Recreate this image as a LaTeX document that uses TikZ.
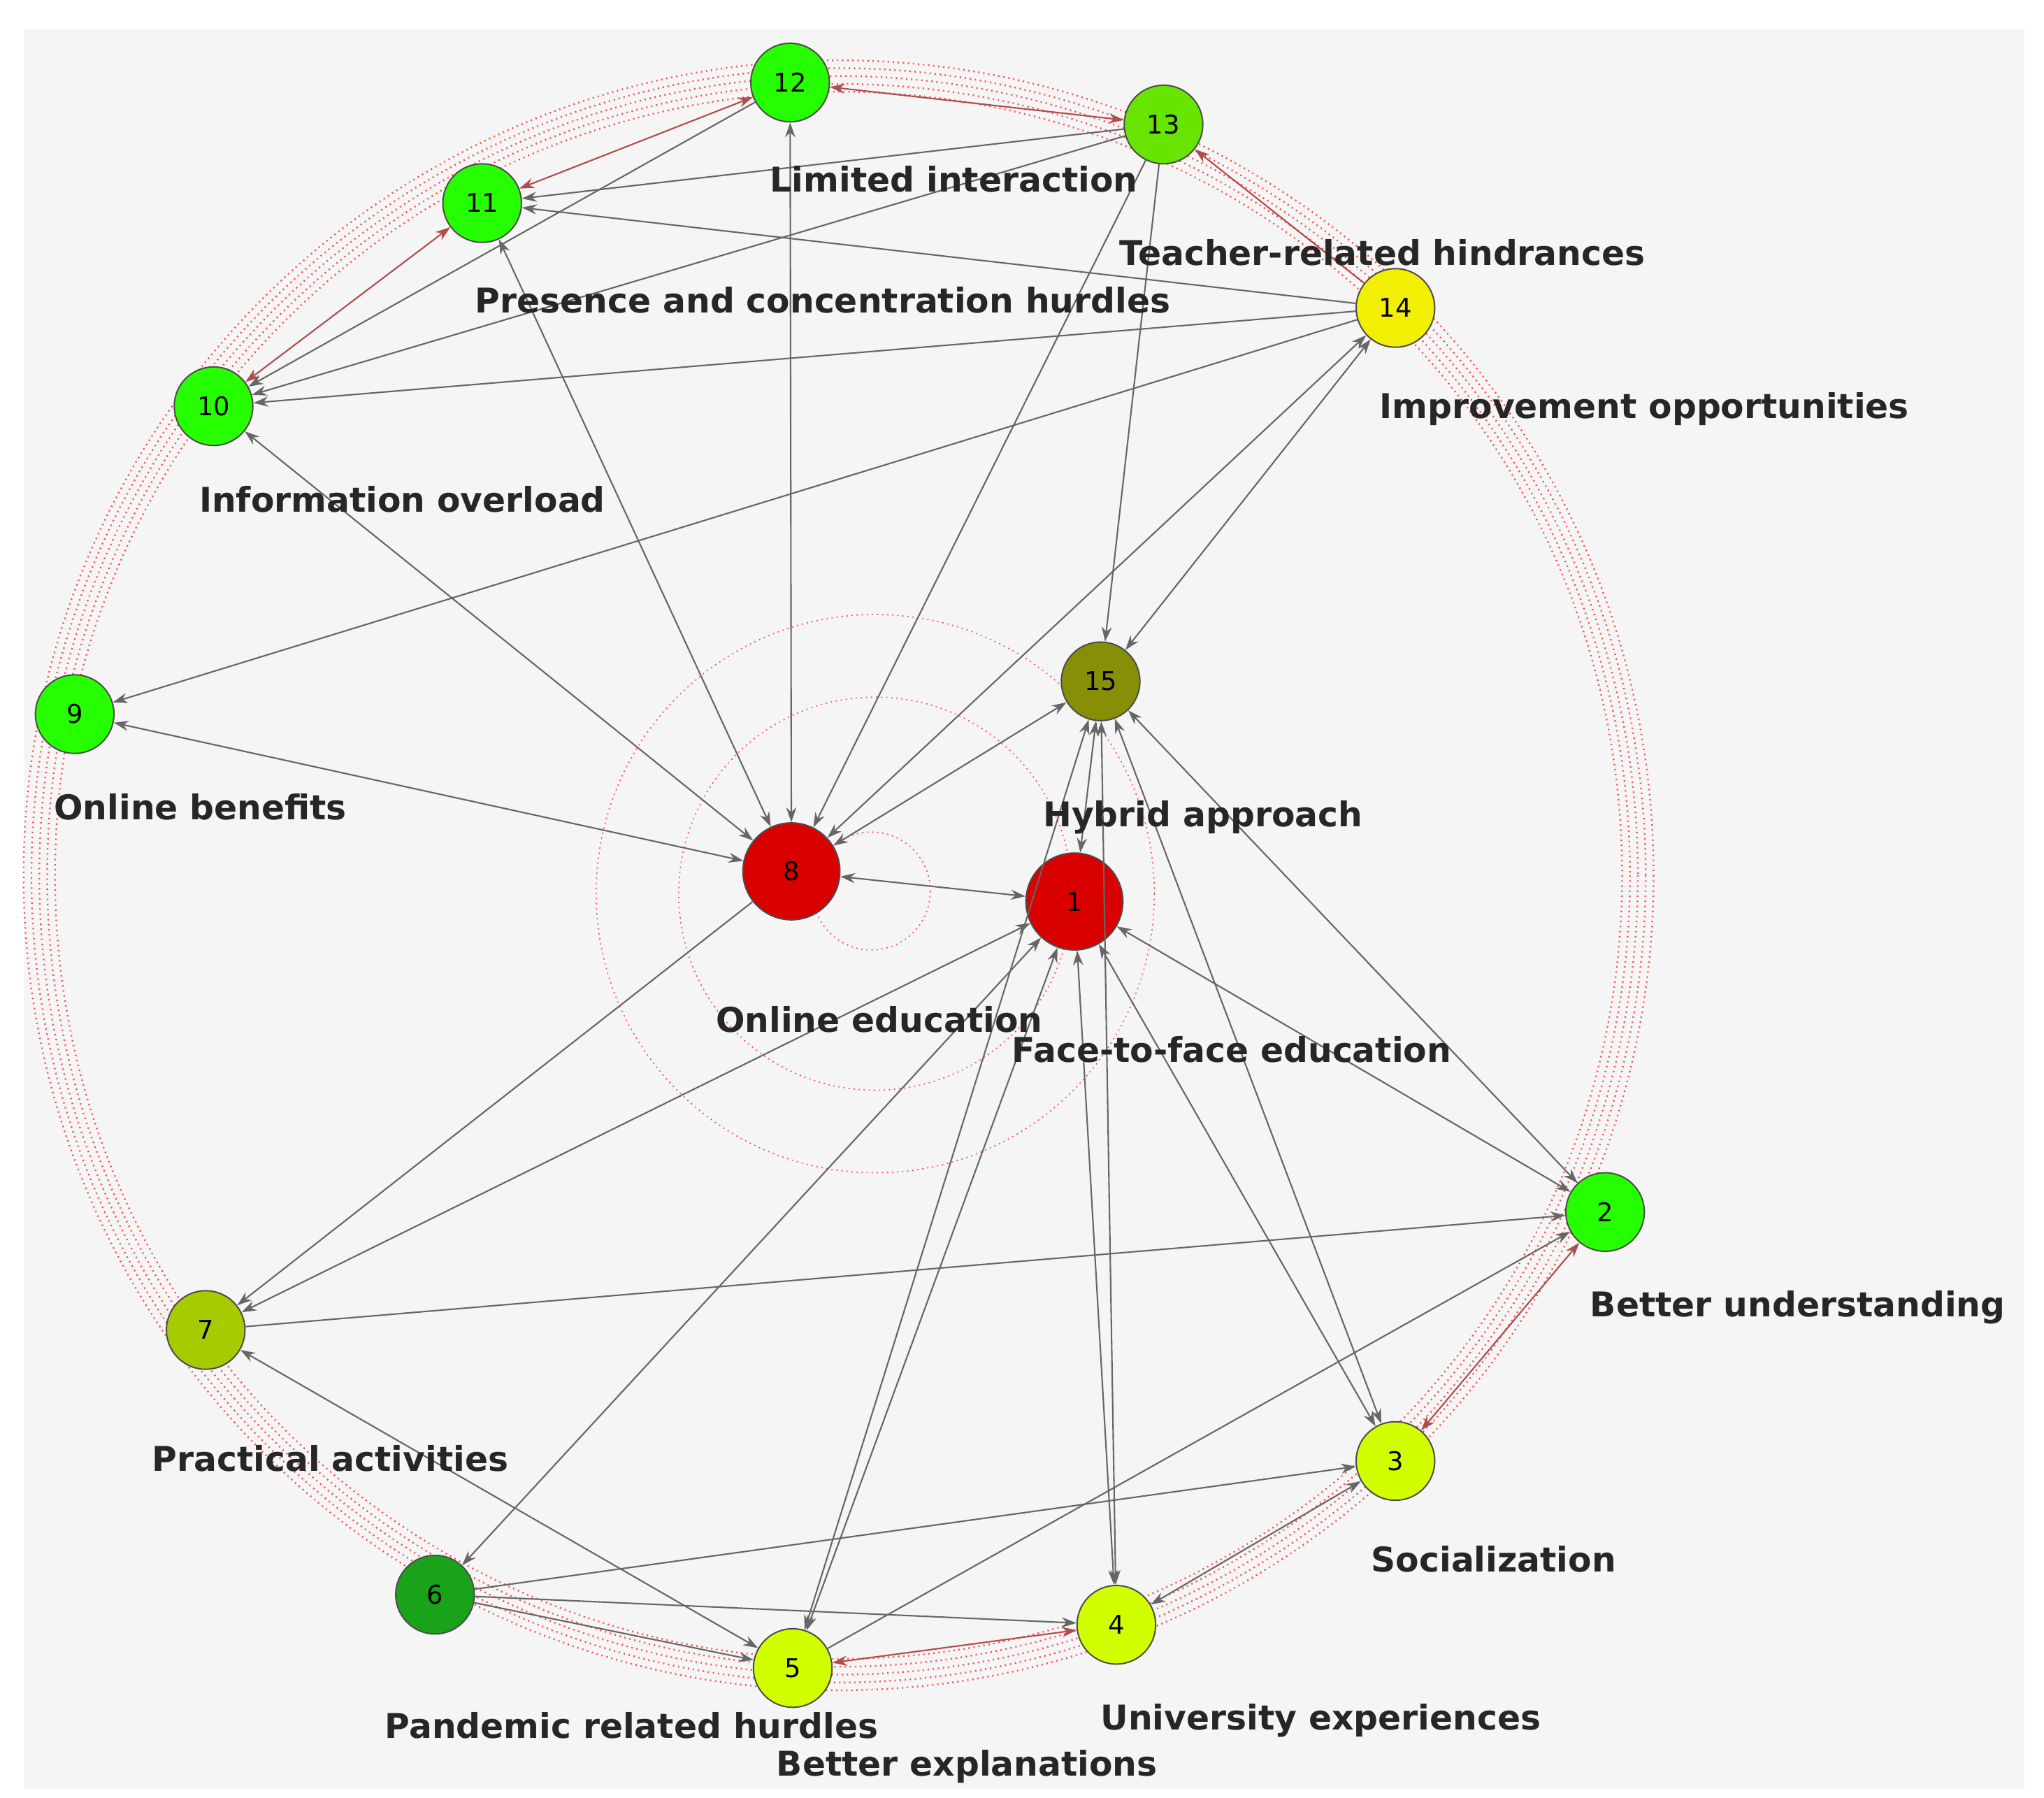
\documentclass[tikz,border=0pt]{standalone}
\usepackage{fontspec}
\setmainfont{DejaVu Sans}
\usetikzlibrary{arrows.meta}
\begin{document}
\begin{tikzpicture}[x=0.05cm,y=-0.05cm,
  nd/.style={circle,draw=black!70,line width=1.5pt,minimum size=3cm,inner sep=0pt,font=\fontsize{28}{30}\selectfont},
  big/.style={nd,minimum size=3.7cm},
  lb/.style={font=\fontsize{37}{40}\selectfont\bfseries,text=black!85},
  ring/.style={draw=red!70,line width=1.8pt,dash pattern=on 1.5pt off 4pt},
  ed/.style={draw=black!60,line width=1.6pt,-{Stealth[length=16pt,width=11pt]}},
  bd/.style={ed,{Stealth[length=16pt,width=11pt]}-{Stealth[length=16pt,width=11pt]}},
  rd/.style={bd,draw=red!55!black!70}]
\useasboundingbox (0,0) rectangle (1560,1372);
\fill[white] (0,0) rectangle (1560,1372);
\fill[black!4] (18,22) rectangle (1545,1365);
% rings
\foreach \r in {598,604,610,616,622}
  \draw[ring] (640,668) circle (\r);
\draw[ring,line width=1.2pt] (668,682) circle (213);
\draw[ring,line width=1.2pt] (668,682) circle (150);
\draw[ring,line width=1.2pt] (665,680) circle (45);
% nodes
\node[nd,fill=green!80!lime] (n12) at (603,63) {12};
\node[nd,fill=lime!60!green!90!black] (n13) at (888,95) {13};
\node[nd,fill=green!80!lime] (n11) at (368,155) {11};
\node[nd,fill=yellow!95!green] (n14) at (1065,235) {14};
\node[nd,fill=green!80!lime] (n10) at (163,310) {10};
\node[nd,fill=green!80!lime] (n9) at (57,545) {9};
\node[nd,fill=olive!85!green] (n15) at (840,520) {15};
\node[big,fill=red!85!black] (n8) at (604,665) {8};
\node[big,fill=red!85!black] (n1) at (820,688) {1};
\node[nd,fill=green!80!lime] (n2) at (1225,925) {2};
\node[nd,fill=lime!60!olive] (n7) at (157,1015) {7};
\node[nd,fill=lime!70!yellow] (n3) at (1065,1115) {3};
\node[nd,fill=green!60!black!90] (n6) at (332,1217) {6};
\node[nd,fill=lime!70!yellow] (n4) at (852,1240) {4};
\node[nd,fill=lime!70!yellow] (n5) at (605,1273) {5};
% edges
\draw[rd] (n12) -- (n13);
\draw[rd] (n11) -- (n12);
\draw[ed] (n13) -- (n11);
\draw[ed] (n13) -- (n10);
\draw[ed] (n14) -- (n11);
\draw[ed] (n14) -- (n10);
\draw[rd,-{Stealth[length=16pt,width=11pt]}] (n14) -- (n13);
\draw[rd] (n11) -- (n10);
\draw[ed] (n12) -- (n10);
\draw[bd] (n12) -- (n8);
\draw[bd] (n11) -- (n8);
\draw[bd] (n10) -- (n8);
\draw[bd] (n9) -- (n8);
\draw[ed] (n14) -- (n9);
\draw[ed] (n13) -- (n8);
\draw[ed] (n13) -- (n15);
\draw[bd] (n14) -- (n8);
\draw[bd] (n14) -- (n15);
\draw[bd] (n8) -- (n15);
\draw[bd] (n8) -- (n1);
\draw[bd] (n1) -- (n15);
\draw[bd] (n15) -- (n2);
\draw[bd] (n15) -- (n3);
\draw[bd] (n15) -- (n4);
\draw[bd] (n15) -- (n5);
\draw[bd] (n1) -- (n2);
\draw[bd] (n1) -- (n3);
\draw[bd] (n1) -- (n4);
\draw[bd] (n1) -- (n5);
\draw[bd] (n1) -- (n7);
\draw[bd] (n1) -- (n6);
\draw[ed] (n8) -- (n7);
\draw[ed] (n7) -- (n2);
\draw[bd] (n7) -- (n5);
\draw[ed] (n6) -- (n3);
\draw[ed] (n6) -- (n4);
\draw[ed] (n6) -- (n5);
\draw[ed] (n5) -- (n2);
\draw[rd] (n5) -- (n4);
\draw[bd] (n4) -- (n3);
\draw[rd] (n3) -- (n2);
% labels
\node[lb] (l13) at (728,137) {Limited interaction};
\node[lb] (l14) at (1055,193) {Teacher-related hindrances};
\node[lb] (l11) at (628,229) {Presence and concentration hurdles};
\node[lb] (l14b) at (1255,312) {Improvement opportunities};
\node[lb] (l10) at (307,381) {Information overload};
\node[lb] (l9) at (153,616) {Online benefits};
\node[lb] (l15) at (918,624) {Hybrid approach};
\node[lb] (l8) at (671,778) {Online education};
\node[lb] (l1) at (940,801) {Face-to-face education};
\node[lb] (l2) at (1372,998) {Better understanding};
\node[lb] (l7) at (252,1113) {Practical activities};
\node[lb] (l3) at (1140,1190) {Socialization};
\node[lb] (l4) at (1008,1313) {University experiences};
\node[lb] (l6) at (482,1317) {Pandemic related hurdles};
\node[lb] (l5) at (738,1348) {Better explanations};
\end{tikzpicture}
\end{document}
